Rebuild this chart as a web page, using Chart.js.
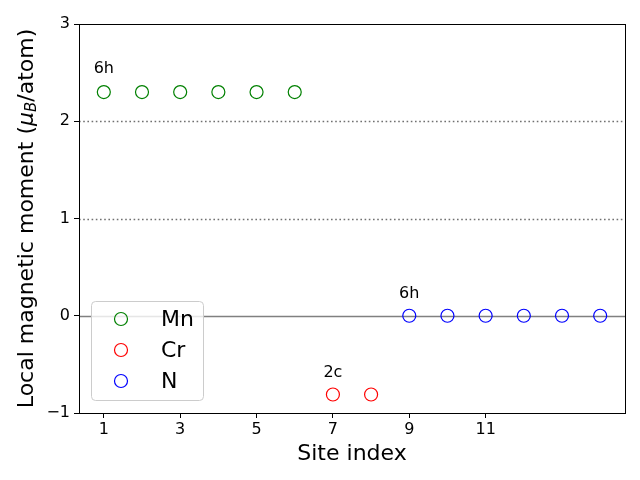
<!DOCTYPE html>
<html>
<head>
<meta charset="utf-8">
<script src="https://cdn.jsdelivr.net/npm/chart.js@4"></script>
<style>
  html, body { margin: 0; padding: 0; background: #fff; }
  #wrap { width: 640px; height: 480px; }
</style>
</head>
<body>
<div id="wrap"><canvas id="c" width="640" height="480"></canvas></div>
<script>
// site data
const mnSites = [1, 2, 3, 4, 5, 6]
const mnMoments = [2.3, 2.3, 2.3, 2.3, 2.3, 2.3]
const crSites = [7, 8]
const crMoments = [-0.81, -0.81]
const nSites = [9, 10, 11, 12, 13, 14]
const nMoments = [0, 0, 0, 0, 0, 0]

const xTicks = [1, 3, 5, 7, 9, 11]
const yTicks = [-1, 0, 1, 2, 3]
const refLines = [1, 2]

const labelX = [1, 7, 9]
const labelY = [2.5, -0.63, 0.18]
const labelText = ['6h', '2c', '6h']

const FONT = "'DejaVu Sans', sans-serif"

const toPts = (xs, ys) => xs.map((x, i) => ({ x: x, y: ys[i] }))

const mkSet = (name, xs, ys, color) => ({
  label: name,
  data: toPts(xs, ys),
  borderColor: color,
  backgroundColor: 'rgba(0,0,0,0)',
  pointRadius: 6.5,
  pointHoverRadius: 6.5,
  pointBorderWidth: 1.2,
  showLine: false
})

const sets = [
  mkSet('Mn', mnSites, mnMoments, '#008000'),
  mkSet('Cr', crSites, crMoments, '#ff0000'),
  mkSet('N', nSites, nMoments, '#0000ff')
]

// gray reference lines behind the points
const refPlugin = {
  id: 'refs',
  beforeDatasetsDraw(chart) {
    const { ctx, chartArea: a, scales: { y } } = chart
    ctx.save()
    ctx.strokeStyle = '#707070'
    ctx.lineWidth = 1.6
    ctx.setLineDash([1.6, 2.6])
    refLines.forEach(v => {
      const py = Math.round(y.getPixelForValue(v)) + 0.5
      ctx.beginPath(); ctx.moveTo(a.left, py); ctx.lineTo(a.right, py); ctx.stroke()
    })
    ctx.setLineDash([])
    ctx.strokeStyle = '#808080'
    const p0 = Math.round(y.getPixelForValue(0)) + 0.5
    ctx.beginPath(); ctx.moveTo(a.left, p0); ctx.lineTo(a.right, p0); ctx.stroke()
    ctx.restore()
  }
}

// frame, site labels, axis titles, legend
const decoPlugin = {
  id: 'deco',
  afterDraw(chart) {
    const { ctx, chartArea: a, scales: { x, y } } = chart
    ctx.save()
    ctx.strokeStyle = '#000'
    ctx.lineWidth = 1
    ctx.strokeRect(a.left + 0.5, a.top + 0.5, a.right - a.left, a.bottom - a.top)

    ctx.fillStyle = '#000'
    ctx.font = '16px ' + FONT
    ctx.textAlign = 'center'
    ctx.textBaseline = 'alphabetic'
    labelText.forEach((t, i) => {
      ctx.fillText(t, x.getPixelForValue(labelX[i]), y.getPixelForValue(labelY[i]))
    })

    // x title
    ctx.font = '22px ' + FONT
    ctx.textBaseline = 'middle'
    ctx.fillText('Site index', (a.left + a.right) / 2, 454)

    // y title with mu_B
    ctx.save()
    ctx.translate(27, (a.top + a.bottom) / 2)
    ctx.rotate(-Math.PI / 2)
    const big = '22px ' + FONT
    const ital = 'italic 22px ' + FONT
    const sub = 'italic 15px ' + FONT
    const parts = [
      ['Local magnetic moment (', big, 0],
      ['\u03bc', ital, 0],
      ['B', sub, 5],
      ['/atom)', big, 0]
    ]
    let total = 0
    parts.forEach(p => { ctx.font = p[1]; total += ctx.measureText(p[0]).width })
    let cx = -total / 2
    ctx.textAlign = 'left'
    parts.forEach(p => {
      ctx.font = p[1]
      ctx.fillText(p[0], cx, p[2])
      cx += ctx.measureText(p[0]).width
    })
    ctx.restore()

    // legend
    const lx = 91, ly = 301, lw = 112, lh = 99
    ctx.beginPath()
    ctx.roundRect(lx + 0.5, ly + 0.5, lw, lh, 4)
    ctx.fillStyle = 'rgba(255,255,255,0.8)'
    ctx.fill()
    ctx.strokeStyle = '#cccccc'
    ctx.stroke()
    ctx.font = '22px ' + FONT
    ctx.textAlign = 'left'
    ctx.textBaseline = 'middle'
    sets.forEach((s, i) => {
      const ry = 319 + i * 31
      ctx.beginPath()
      ctx.arc(121, ry, 6.5, 0, Math.PI * 2)
      ctx.strokeStyle = s.borderColor
      ctx.lineWidth = 1.2
      ctx.stroke()
      ctx.fillStyle = '#000'
      ctx.fillText(s.label, 161, ry + 1)
    })
    ctx.restore()
  }
}

new Chart(document.getElementById('c'), {
  type: 'scatter',
  data: { datasets: sets },
  options: {
    responsive: false,
    animation: false,
    events: [],
    layout: { padding: { left: 0, right: 15, top: 24, bottom: 0 } },
    plugins: { legend: { display: false }, tooltip: { enabled: false } },
    scales: {
      x: {
        type: 'linear',
        min: 0.35,
        max: 14.65,
        afterBuildTicks: ax => { ax.ticks = xTicks.map(v => ({ value: v })) },
        afterFit: ax => { ax.height = 67 },
        grid: { drawOnChartArea: false, drawTicks: true, tickLength: 5, color: '#000' },
        border: { display: true, color: '#000' },
        ticks: { color: '#000', font: { family: FONT, size: 16 }, padding: 2, maxRotation: 0, autoSkip: false }
      },
      y: {
        min: -1,
        max: 3,
        afterBuildTicks: ax => { ax.ticks = yTicks.map(v => ({ value: v })) },
        afterFit: ax => { ax.width = 79 },
        grid: { drawOnChartArea: false, drawTicks: true, tickLength: 5, color: '#000' },
        border: { display: true, color: '#000' },
        ticks: {
          color: '#000', font: { family: FONT, size: 16 }, padding: 4,
          callback: v => v < 0 ? '\u2212' + Math.abs(v) : String(v)
        }
      }
    }
  },
  plugins: [refPlugin, decoPlugin]
})
</script>
</body>
</html>
